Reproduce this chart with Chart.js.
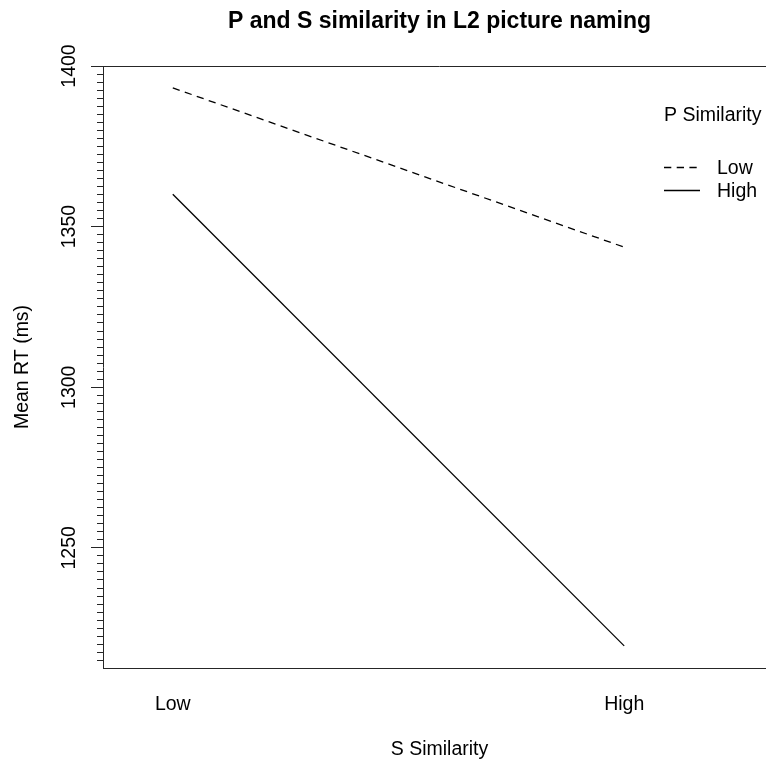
<!DOCTYPE html>
<html>
<head>
<meta charset="utf-8">
<script src="https://cdn.jsdelivr.net/npm/chart.js@4/dist/chart.umd.min.js"></script>
<style>
  html, body { margin: 0; padding: 0; background: #fff; overflow: hidden; }
  canvas { display: block; }
</style>
</head>
<body>
<canvas id="c" width="776" height="761"></canvas>
<script>
// ---- data ----
const sSimilarity = ['Low', 'High'];          // x categories
const pSimilarity = ['Low', 'High'];          // trace factor levels
const rtPLow  = [1393.2, 1343.6];             // P similarity = Low (dashed)
const rtPHigh = [1360.1, 1219.5];             // P similarity = High (solid)
const yTickLabels = [1250, 1300, 1350, 1400];

const FONT = "'Liberation Sans', Arial, Helvetica, sans-serif";
const AXIS = '#262626';
const DASH = [7.3, 5.4];

const toPoints = arr => arr.map((v, i) => ({ x: i + 1, y: v }));

const decor = {
  id: 'decor',
  afterDraw(chart) {
    const { ctx, chartArea: a, scales: { y } } = chart;
    const align = p => Math.round(p - 0.5) + 0.5;
    ctx.save();
    ctx.strokeStyle = AXIS;
    ctx.lineWidth = 1;
    // top box line
    ctx.beginPath();
    ctx.moveTo(a.left, align(a.top));
    ctx.lineTo(a.right, align(a.top));
    ctx.stroke();
    // major ticks + rotated labels
    ctx.fillStyle = '#000';
    ctx.font = '19.5px ' + FONT;
    yTickLabels.forEach(v => {
      const py = y.getPixelForValue(v);
      ctx.beginPath();
      ctx.moveTo(a.left - 12, align(py));
      ctx.lineTo(a.left, align(py));
      ctx.stroke();
      ctx.save();
      ctx.translate(75, py);
      ctx.rotate(-Math.PI / 2);
      ctx.textAlign = 'center';
      ctx.textBaseline = 'alphabetic';
      ctx.fillText(String(v), 0, 0);
      ctx.restore();
    });
    // legend
    ctx.textAlign = 'left';
    ctx.textBaseline = 'middle';
    ctx.fillText('P Similarity', 664, 116);
    const rows = [167.5, 190.5];
    chart.data.datasets.forEach((ds, i) => {
      const ly = rows[i];
      ctx.save();
      ctx.strokeStyle = ds.borderColor;
      ctx.lineWidth = ds.borderWidth;
      ctx.setLineDash(ds.borderDash || []);
      ctx.beginPath();
      ctx.moveTo(664, ly);
      ctx.lineTo(700, ly);
      ctx.stroke();
      ctx.restore();
      ctx.fillText(ds.label, 717, ly + 1.2);
    });
    ctx.restore();
  }
};

new Chart(document.getElementById('c'), {
  type: 'line',
  data: {
    datasets: [
      { label: pSimilarity[0], data: toPoints(rtPLow), borderColor: '#000', borderWidth: 1.3,
        borderDash: DASH, pointRadius: 0, fill: false, tension: 0 },
      { label: pSimilarity[1], data: toPoints(rtPHigh), borderColor: '#000', borderWidth: 1.3,
        pointRadius: 0, fill: false, tension: 0 }
    ]
  },
  options: {
    responsive: false,
    animation: false,
    devicePixelRatio: 1,
    layout: { padding: 0 },
    plugins: {
      legend: { display: false },
      tooltip: { enabled: false },
      title: {
        display: true,
        text: 'P and S similarity in L2 picture naming',
        fullSize: false,
        color: '#000',
        font: { family: FONT, size: 23, weight: 'bold' },
        padding: { top: 8, bottom: 30.4 }
      }
    },
    scales: {
      x: {
        type: 'linear',
        min: 0.8454,
        max: 2.3363,
        grid: { display: false, drawTicks: false },
        border: { display: true, color: AXIS, width: 1 },
        ticks: {
          stepSize: 1,
          includeBounds: false,
          autoSkip: false,
          maxRotation: 0,
          padding: 25,
          color: '#000',
          font: { family: FONT, size: 19.5 },
          callback: v => sSimilarity[v - 1] ?? ''
        },
        title: {
          display: true,
          text: 'S Similarity',
          color: '#000',
          font: { family: FONT, size: 19.5 },
          padding: { top: 0, bottom: 0 }
        },
        afterFit: s => { s.height = 93; }
      },
      y: {
        type: 'linear',
        min: 1212.6,
        max: 1400,
        grid: { display: true, drawOnChartArea: false, drawTicks: true, tickLength: 6, tickColor: AXIS, tickWidth: 1 },
        border: { display: true, color: AXIS, width: 1 },
        ticks: {
          display: false,
          stepSize: 2.5,
          includeBounds: false,
          autoSkip: false
        },
        title: {
          display: true,
          text: 'Mean RT (ms)',
          color: '#000',
          font: { family: FONT, size: 19.5 },
          padding: { top: 10.5, bottom: 0 }
        },
        afterFit: s => { s.width = 103; }
      }
    }
  },
  plugins: [decor]
});
</script>
</body>
</html>
